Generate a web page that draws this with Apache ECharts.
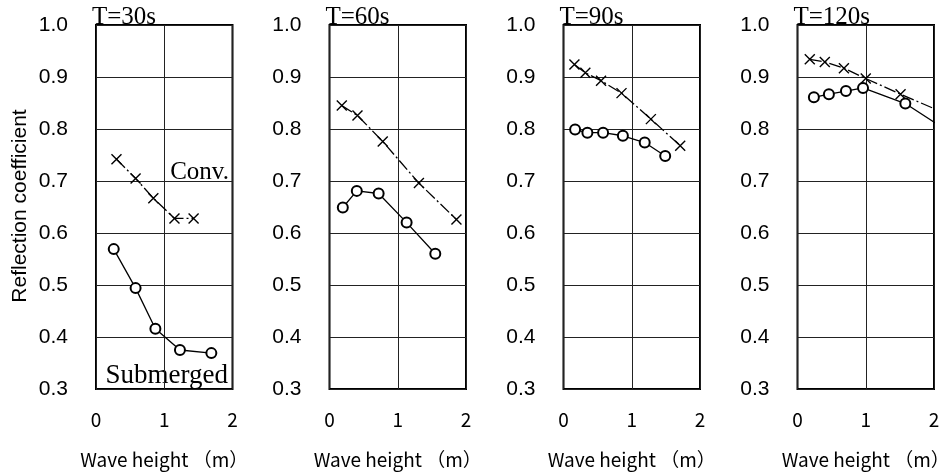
<!DOCTYPE html>
<html>
<head>
<meta charset="utf-8">
<script src="https://cdn.jsdelivr.net/npm/echarts@6/dist/echarts.min.js"></script>
<style>
  html, body { margin: 0; padding: 0; background: #fff; }
  #chart { width: 948px; height: 472px; }
</style>
</head>
<body>
<div id="chart"></div>
<script>
// periods shown in each panel
var periods = ['T=30s', 'T=60s', 'T=90s', 'T=120s'];
var yTicks = [0.3, 0.4, 0.5, 0.6, 0.7, 0.8, 0.9, 1.0];
var xTicks = [0, 1, 2];

// Conv. breakwater (x markers), [wave height, reflection coefficient]
var conv30 = [[0.30, 0.742], [0.58, 0.705], [0.84, 0.667], [1.15, 0.628], [1.43, 0.628]];
var conv60 = [[0.18, 0.845], [0.41, 0.826], [0.78, 0.776], [1.31, 0.696], [1.86, 0.626]];
var conv90 = [[0.16, 0.924], [0.32, 0.908], [0.55, 0.893], [0.85, 0.869], [1.28, 0.819], [1.71, 0.768]];
var conv120 = [[0.18, 0.934], [0.40, 0.929], [0.68, 0.917], [1.00, 0.897], [1.51, 0.867], [2.2, 0.828]];

// Submerged breakwater (circles)
var sub30 = [[0.26, 0.569], [0.58, 0.494], [0.87, 0.416], [1.23, 0.375], [1.69, 0.369]];
var sub60 = [[0.195, 0.649], [0.40, 0.681], [0.72, 0.676], [1.13, 0.620], [1.55, 0.560]];
var sub90 = [[0.17, 0.799], [0.35, 0.793], [0.58, 0.793], [0.87, 0.787], [1.19, 0.774], [1.49, 0.748]];
var sub120 = [[0.24, 0.861], [0.46, 0.867], [0.71, 0.873], [0.96, 0.879], [1.58, 0.849], [2.2, 0.796]];

var convData = [conv30, conv60, conv90, conv120];
var subData = [sub30, sub60, sub90, sub120];

var dom = document.getElementById('chart');
var myChart = echarts.init(dom);

var gridLefts = [96, 329.5, 563.5, 797.5];
var serif = "'Liberation Serif', 'DejaVu Serif', serif";
var sans = "'Liberation Sans', Arial, sans-serif";
var grids = [], xAxes = [], yAxes = [], series = [], titles = [];

// points beyond the axis range are the line ends running off the picture
function toItems(arr) {
    return arr.map(function (p) {
        if (p[0] > xTicks[xTicks.length - 1]) {
            return {value: p, symbol: 'none'};
        }
        return p;
    });
}

for (var i = 0; i < periods.length; i++) {
    grids.push({
        left: gridLefts[i],
        top: 25,
        width: 136.5,
        height: 364,
        show: true,
        borderColor: '#000',
        borderWidth: 2,
        backgroundColor: 'transparent',
        outerBoundsMode: 'none'
    });
    xAxes.push({
        type: 'value',
        gridIndex: i,
        min: xTicks[0],
        max: xTicks[xTicks.length - 1],
        interval: 1,
        name: 'Wave height （m）',
        nameLocation: 'middle',
        nameGap: 61,
        nameTextStyle: {fontFamily: 'Noto Sans CJK JP', fontSize: 19, color: '#000'},
        axisLine: {show: false},
        axisTick: {show: false},
        axisLabel: {margin: 21, fontFamily: 'Noto Sans CJK JP', fontSize: 19, color: '#000'},
        splitLine: {show: true, lineStyle: {color: '#222', width: 1}}
    });
    yAxes.push({
        type: 'value',
        gridIndex: i,
        min: yTicks[0],
        max: yTicks[yTicks.length - 1],
        interval: 0.1,
        axisLine: {show: false},
        axisTick: {show: false},
        axisLabel: {
            margin: 28,
            fontFamily: sans,
            fontSize: 21,
            color: '#000',
            formatter: function (v) { return v.toFixed(1); }
        },
        splitLine: {show: true, lineStyle: {color: '#222', width: 1}}
    });
    series.push({
        name: 'Conv.',
        type: 'line',
        xAxisIndex: i,
        yAxisIndex: i,
        clip: false,
        data: toItems(convData[i]),
        symbol: 'path://M0,0L10,10M10,0L0,10',
        symbolSize: 10,
        itemStyle: {color: '#000', borderColor: '#000', borderWidth: 1.4},
        lineStyle: {color: '#000', width: 1.3, type: [12, 3, 2, 3]},
        z: 3
    });
    series.push({
        name: 'Submerged',
        type: 'line',
        xAxisIndex: i,
        yAxisIndex: i,
        clip: false,
        data: toItems(subData[i]),
        symbol: 'emptyCircle',
        symbolSize: 10,
        itemStyle: {color: '#000', borderWidth: 1.4},
        lineStyle: {color: '#000', width: 1.3},
        z: 4
    });
    titles.push({
        text: periods[i],
        left: gridLefts[i] - 4,
        top: 5,
        padding: 0,
        textStyle: {fontFamily: serif, fontSize: 25, fontWeight: 'normal', color: '#000'}
    });
}

option = null;
option = {
    backgroundColor: '#fff',
    animation: false,
    title: titles,
    grid: grids,
    xAxis: xAxes,
    yAxis: yAxes,
    series: series,
    graphic: [
        {
            type: 'text', x: 20, y: 206, rotation: Math.PI / 2,
            style: {
                text: 'Reflection coefficient', align: 'center', verticalAlign: 'middle',
                font: '21px ' + sans, fill: '#000'
            }
        },
        {
            type: 'text', x: 229, y: 172,
            style: {text: 'Conv.', align: 'right', verticalAlign: 'middle', font: '25px ' + serif, fill: '#000'}
        },
        {
            type: 'text', x: 228, y: 376,
            style: {text: 'Submerged', align: 'right', verticalAlign: 'middle', font: '27px ' + serif, fill: '#000'}
        }
    ]
};

if (option && typeof option === "object") {
    myChart.setOption(option, true);
}
</script>
</body>
</html>
